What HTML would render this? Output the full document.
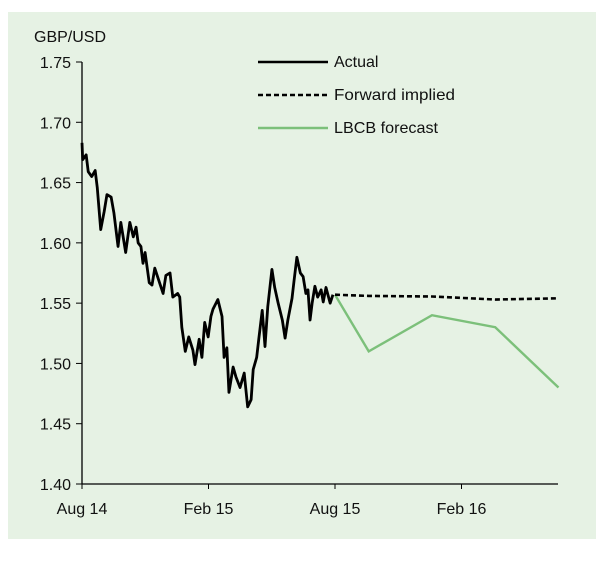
<!DOCTYPE html>
<html><head><meta charset="utf-8"><style>
body{margin:0;background:#fff;width:604px;height:557px;overflow:hidden}
svg text{font-family:"Liberation Sans",sans-serif;fill:#111}
</style></head><body>
<svg id="chart" width="604" height="557" viewBox="0 0 604 557">
<rect x="8" y="12" width="588" height="527" fill="#e6f2e4"/>
<text x="34" y="42" font-size="16" textLength="72" lengthAdjust="spacingAndGlyphs">GBP/USD</text>
<g id="axes"></g>
<g id="series"></g>
<g>
<line x1="258" y1="62" x2="328" y2="62" stroke="#000" stroke-width="2.6"/>
<text x="334" y="67" font-size="16">Actual</text>
<line x1="258" y1="95" x2="328" y2="95" stroke="#000" stroke-width="2.6" stroke-dasharray="5,3"/>
<text x="334" y="100" font-size="16" textLength="121" lengthAdjust="spacingAndGlyphs">Forward implied</text>
<line x1="258" y1="128" x2="328" y2="128" stroke="#7cc07a" stroke-width="2.4"/>
<text x="334" y="133" font-size="16" textLength="104" lengthAdjust="spacingAndGlyphs">LBCB forecast</text>
</g>
</svg>
<script>
// months since Aug 2014
const xTickMonths=[0,6,12,18];
const xTickLabels=["Aug 14","Feb 15","Aug 15","Feb 16"];
const yTicks=[1.40,1.45,1.50,1.55,1.60,1.65,1.70,1.75];
const yTickLabels=["1.40","1.45","1.50","1.55","1.60","1.65","1.70","1.75"];
// actual: days since 1 Aug 2014
const actualDays=[0,1,6,9,14,19,22,27,32,36,42,46,52,56,63,69,74,78,81,85,88,91,97,101,105,113,117,121,127,131,138,141,144,149,154,160,163,169,173,177,182,186,189,196,202,205,209,212,218,222,228,234,239,244,247,252,255,260,264,268,274,278,283,289,293,297,303,306,310,315,319,323,326,329,332,336,340,345,348,352,358,362];
const actualValues=[1.683,1.669,1.673,1.659,1.655,1.660,1.646,1.611,1.626,1.640,1.638,1.625,1.597,1.617,1.592,1.617,1.605,1.613,1.600,1.597,1.583,1.592,1.567,1.565,1.579,1.565,1.558,1.573,1.575,1.555,1.558,1.555,1.530,1.510,1.522,1.511,1.499,1.520,1.505,1.534,1.522,1.539,1.545,1.553,1.539,1.505,1.513,1.476,1.497,1.489,1.480,1.492,1.464,1.470,1.495,1.505,1.520,1.544,1.514,1.547,1.578,1.563,1.550,1.536,1.521,1.536,1.554,1.569,1.588,1.575,1.572,1.558,1.561,1.536,1.550,1.564,1.555,1.561,1.551,1.563,1.550,1.557];
const forwardMonths=[12,13.6,16.6,19.6,22.6];
const forwardValues=[1.557,1.556,1.5555,1.553,1.554];
const lbcbMonths=[12,13.6,16.6,19.6,22.6];
const lbcbValues=[1.557,1.51,1.54,1.53,1.48];

const NS="http://www.w3.org/2000/svg";
const X0=82,PXM=253/12,Y0=484,YTOP=62,VMIN=1.40,VMAX=1.75;
function xm(m){return X0+m*PXM;}
function xd(d){return X0+d*253/365;}
function yv(v){return Y0-(v-VMIN)/(VMAX-VMIN)*(Y0-YTOP);}
function mk(tag,attrs,parent){const e=document.createElementNS(NS,tag);for(const k in attrs)e.setAttribute(k,attrs[k]);parent.appendChild(e);return e;}
const axes=document.getElementById('axes'),series=document.getElementById('series');
let e=mk('line',{x1:X0,y1:YTOP,x2:X0,y2:Y0,stroke:'#000','stroke-width':1.3},axes);


e=mk('line',{x1:X0,y1:Y0,x2:558,y2:Y0,stroke:'#000','stroke-width':1.3},axes);


yTicks.forEach((v,i)=>{
 let t=mk('line',{x1:X0-6,y1:yv(v),x2:X0,y2:yv(v),stroke:'#000','stroke-width':1},axes);
 
 
 let l=mk('text',{x:71,y:yv(v)+6,'font-size':16,'text-anchor':'end'},axes);
 l.textContent=yTickLabels[i];
 
 
});
xTickMonths.forEach((m,i)=>{
 let t=mk('line',{x1:xm(m),y1:Y0,x2:xm(m),y2:Y0+5,stroke:'#000','stroke-width':1},axes);
 
 
 let l=mk('text',{x:xm(m),y:514,'font-size':16,'text-anchor':'middle'},axes);
 l.textContent=xTickLabels[i];
 
 
});
let p=mk('polyline',{points:lbcbMonths.map((m,i)=>xm(m)+','+yv(lbcbValues[i])).join(' '),fill:'none',stroke:'#7cc07a','stroke-width':2.4},series);


p=mk('polyline',{points:forwardMonths.map((m,i)=>xm(m)+','+yv(forwardValues[i])).join(' '),fill:'none',stroke:'#000','stroke-width':2.6,'stroke-dasharray':'5,3'},series);


p=mk('polyline',{points:actualDays.map((d,i)=>xd(d)+','+yv(actualValues[i])).join(' '),fill:'none',stroke:'#000','stroke-width':2.8,'stroke-linejoin':'round'},series);


</script>
</body></html>
